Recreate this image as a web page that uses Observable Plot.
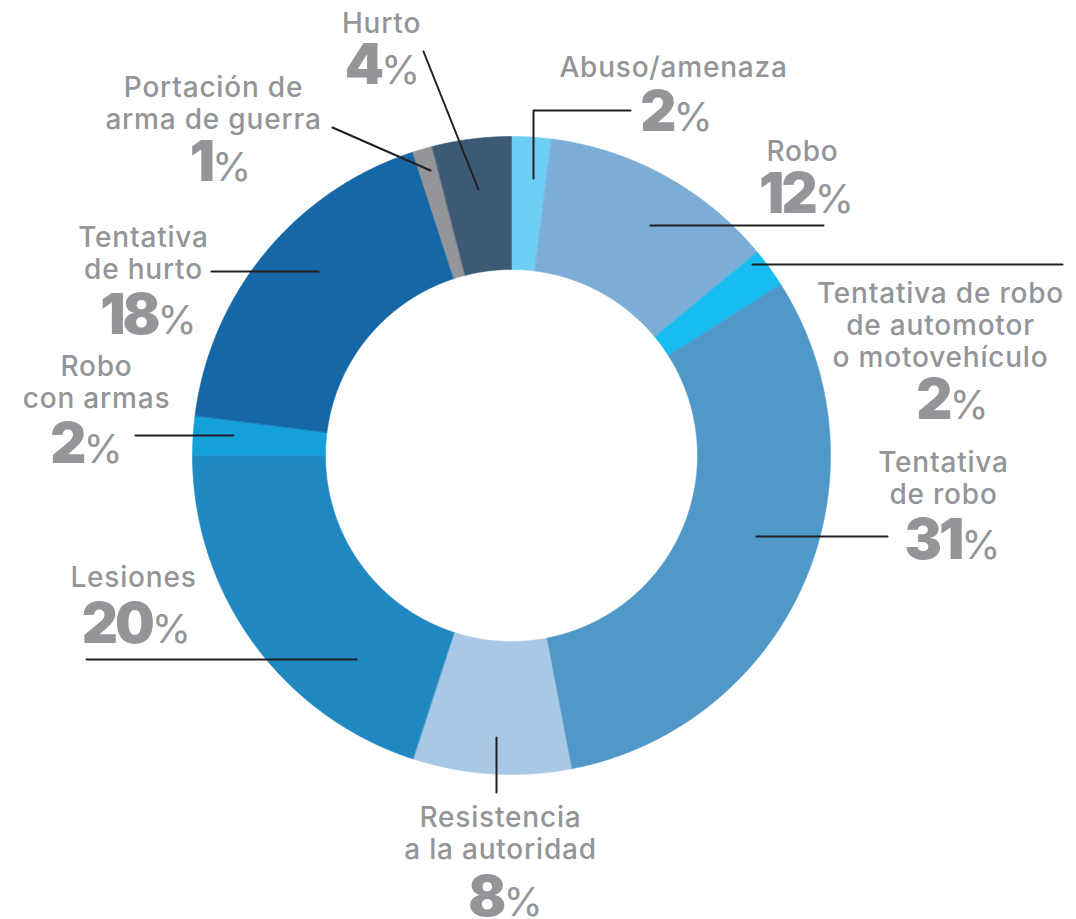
<!DOCTYPE html>
<html><head><meta charset="utf-8">
<script src="https://cdn.jsdelivr.net/npm/d3@7"></script>
<script src="https://cdn.jsdelivr.net/npm/@observablehq/plot@0.6"></script>
<style>body{margin:0;background:#fff} #chart svg{display:block}</style>
</head><body><div id="chart"></div>
<script>
// ---- data ----
const categories = ["Abuso/amenaza","Robo","Tentativa de robo de automotor o motovehículo","Tentativa de robo","Resistencia a la autoridad","Lesiones","Robo con armas","Tentativa de hurto","Portación de arma de guerra","Hurto"];
const labelLines = ["Abuso/amenaza","Robo","Tentativa de robo\nde automotor\no motovehículo","Tentativa\nde robo","Resistencia\na la autoridad","Lesiones","Robo\ncon armas","Tentativa\nde hurto","Portación de\narma de guerra","Hurto"];
const values = [2,12,2,31,8,20,2,18,1,4];
const colors = ["#6dcff6","#7badd6","#17bdf0","#4f98c8","#a9c8e6","#2088c0","#14a0d9","#1667a5","#939598","#3c5a76"];

// ---- layout ----
const W = 1076, H = 919, CX = 511, CY = 455, R_OUT = 319, R_IN = 186;
const nameX = [673,802,940,943,500,133,96,143,213,381];
const nameY = [76,160,366,503,858,586,407,278,128,32];
const numX  = [676,806,952,952,505,136,86,148,220,382];
const numY  = [130,212,418,558,915,642,462,333,180,83];
const leaders = [
  [[533,178],[533,110],[630,110]],
  [[650,225],[823,225]],
  [[752,264],[1062,264]],
  [[756,536],[887,536]],
  [[496,737],[496,792]],
  [[356,659],[86,659]],
  [[233,435],[135,435]],
  [[318,271],[211,271]],
  [[430,170],[332,127]],
  [[478,189],[423,51]]
];
const FONT = "Inter, 'Open Sans', sans-serif";
const GRAY = "#939598";

// ---- slices from d3.pie ----
const arcs = d3.pie().sort(null).value(d => d)(values);
const sliceMarks = arcs.map((a, i) => {
  const pts = [];
  const n = Math.max(2, Math.ceil((a.endAngle - a.startAngle) / 0.004));
  for (let k = 0; k <= n; k++) {
    const t = a.startAngle + (a.endAngle - a.startAngle) * k / n;
    pts.push({x: CX + R_OUT * Math.sin(t), y: CY - R_OUT * Math.cos(t)});
  }
  for (let k = n; k >= 0; k--) {
    const t = a.startAngle + (a.endAngle - a.startAngle) * k / n;
    pts.push({x: CX + R_IN * Math.sin(t), y: CY - R_IN * Math.cos(t)});
  }
  return Plot.line(pts, {x: "x", y: "y", fill: colors[i], stroke: colors[i], strokeWidth: 0.6, curve: "linear-closed"});
});

const leaderPts = leaders.flatMap((pl, i) => pl.map(([x, y]) => ({id: i, x, y})));
const idx = d3.range(categories.length);

const chart = Plot.plot({
  width: W, height: H, margin: 0,
  x: {domain: [0, W], axis: null},
  y: {domain: [H, 0], axis: null},
  style: {fontFamily: FONT, background: "white"},
  marks: [
    ...sliceMarks,
    Plot.line(leaderPts, {x: "x", y: "y", z: "id", stroke: "#231f20", strokeWidth: 2}),
    Plot.text(idx, {x: i => nameX[i], y: i => nameY[i], text: i => labelLines[i], lineAnchor: "bottom", textAnchor: "middle", fontSize: 28, fontWeight: 500, lineHeight: 32/28, fill: GRAY, fontFamily: FONT, className: "names"}),
    Plot.text(idx, {x: i => numX[i], y: i => numY[i], text: i => values[i] + "%", lineAnchor: "bottom", textAnchor: "middle", fontSize: 56, fill: GRAY, fontFamily: FONT, className: "pct"})
  ]
});

chart.querySelectorAll("g.names").forEach(g => g.setAttribute("letter-spacing", "0.8"));

// bold number + lighter percent sign
chart.querySelectorAll("g.pct text").forEach(t => {
  const s = t.textContent;
  const num = s.replace("%", "");
  t.textContent = "";
  const a = document.createElementNS("http://www.w3.org/2000/svg", "tspan");
  a.setAttribute("font-weight", "900");
  a.setAttribute("font-size", "56");
  a.setAttribute("letter-spacing", "-3");
  a.textContent = num;
  const b = document.createElementNS("http://www.w3.org/2000/svg", "tspan");
  b.setAttribute("font-weight", "400");
  b.setAttribute("font-size", "40");
  b.textContent = "%";
  t.appendChild(a); t.appendChild(b);
});

document.getElementById("chart").appendChild(chart);
</script>
</body></html>
